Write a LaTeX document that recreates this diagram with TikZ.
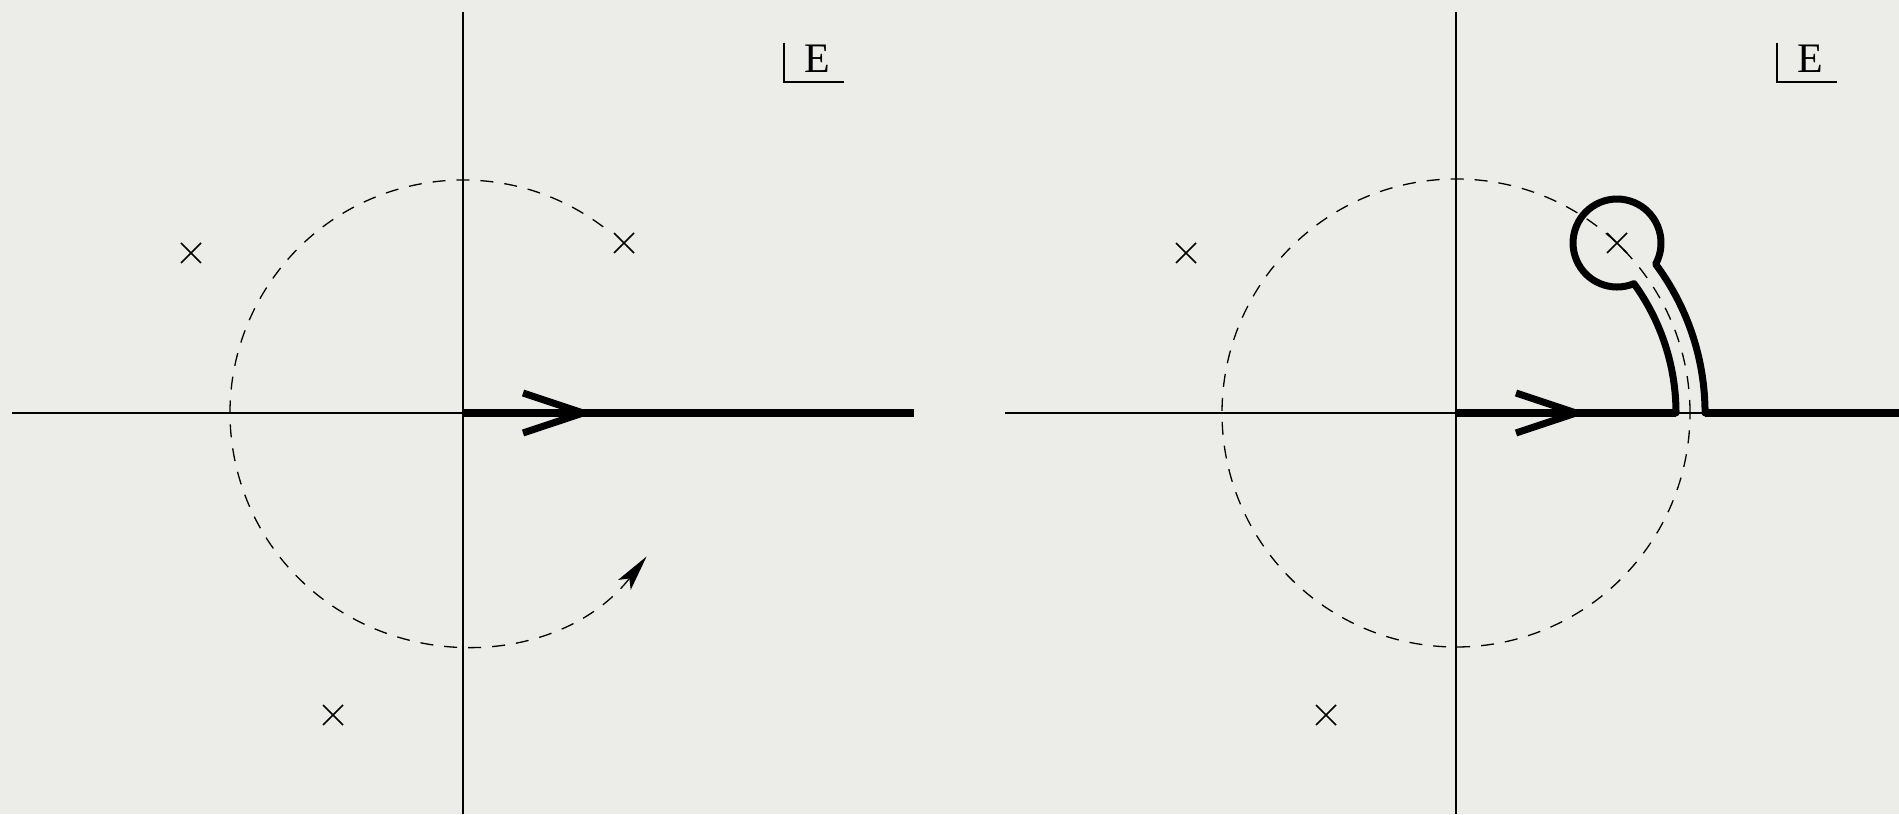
\documentclass[tikz,border=0pt]{standalone}
\usepackage{fontspec}
\setmainfont{Liberation Serif}
\usetikzlibrary{arrows.meta}
\definecolor{bg}{RGB}{236,236,232}
\tikzset{
  axis/.style={line width=0.75pt},
  thick path/.style={line width=4pt},
  keyhole/.style={line width=3.5pt},
  chev/.style={line width=3.5pt, line join=miter},
  dashcirc/.style={line width=0.65pt, dash pattern=on 6.5pt off 5.5pt},
  polemark/.style={line width=0.75pt},
  elabel/.style={inner sep=0pt, anchor=base west, font=\fontsize{21}{21}\selectfont}
}
\newcommand{\pole}[2]{\draw[polemark] (#1-10,#2-10) -- (#1+10,#2+10) (#1-10,#2+10) -- (#1+10,#2-10);}
\begin{document}
\begin{tikzpicture}[x=0.5pt,y=0.5pt]
\fill[bg] (0,0) rectangle (1899,814);
\useasboundingbox (0,0) rectangle (1899,814);
% ---------------- left panel ----------------
\begin{scope}[shift={(463,401)}]
  \coordinate (L0) at (0,0);
  \coordinate (Ltop) at (0,401);
  \coordinate (Lbot) at (0,-401);
  \coordinate (Lleft) at (-451,0);
  \coordinate (Lright) at (451,0);
  \draw[axis] (Ltop) -- (Lbot);
  \draw[axis] (Lleft) -- (L0);
  \draw[thick path] (L0) -- (Lright);
  \draw[chev] (60,20) -- (120,0) -- (60,-20);
  \draw[dashcirc, -{Stealth[length=18pt,width=8pt,inset=4pt]}] (53:233) arc[start angle=53, end angle=322, radius=233];
  \pole{-272}{160}
  \pole{161}{170}
  \pole{-130}{-302}
  \coordinate (LEa) at (321,370);
  \coordinate (LEb) at (321,331);
  \coordinate (LEc) at (381,331);
  \draw[line width=0.75pt] (LEa) -- (LEb) -- (LEc);
  \node[elabel] (LE) at (341,340) {E};
\end{scope}
% ---------------- right panel ----------------
\begin{scope}[shift={(1456,401)}]
  \coordinate (R0) at (0,0);
  \coordinate (Rtop) at (0,401);
  \coordinate (Rbot) at (0,-401);
  \coordinate (Rleft) at (-451,0);
  \coordinate (Rright) at (443,0);
  \draw[axis] (Rtop) -- (Rbot);
  \draw[axis] (Rleft) -- (Rright);
  \draw[dashcirc] (0,0) circle[radius=234];
  \draw[keyhole, line join=round] (R0) -- (220,0)
     arc[start angle=0, end angle=36.02, radius=220]
     arc[start angle=-67.4, end angle=-388.7, radius=44]
     arc[start angle=36.72, end angle=0, radius=249]
     -- (Rright);
  \draw[thick path] (R0) -- (220,0);
  \draw[thick path] (249,0) -- (Rright);
  \draw[chev] (60,20) -- (120,0) -- (60,-20);
  \pole{-270}{160}
  \pole{161}{170}
  \pole{-130}{-302}
  \coordinate (REa) at (321,370);
  \coordinate (REb) at (321,331);
  \coordinate (REc) at (381,331);
  \draw[line width=0.75pt] (REa) -- (REb) -- (REc);
  \node[elabel] (RE) at (341,340) {E};
\end{scope}
\end{tikzpicture}
\end{document}
